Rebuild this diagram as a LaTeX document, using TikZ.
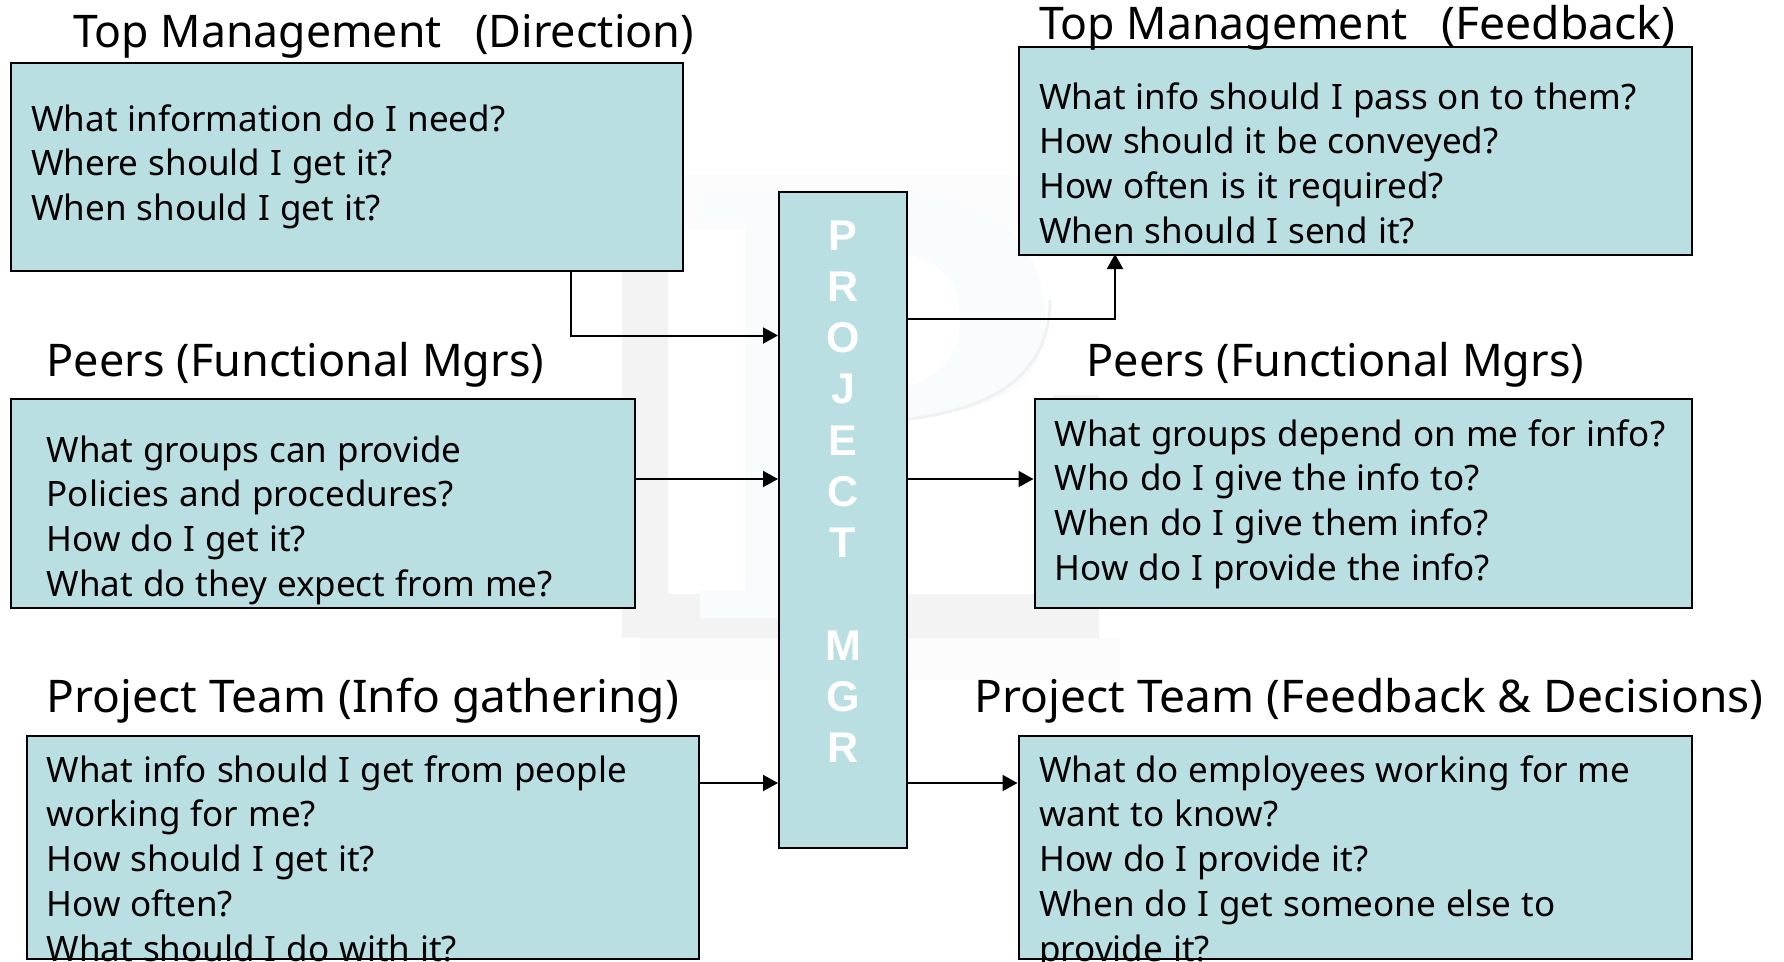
\documentclass[tikz,border=0pt]{standalone}
\usepackage{fontspec}
\setmainfont{Noto Sans}
\newfontfamily\bodyface{Noto Sans}[WordSpace=1.1]
\newfontfamily\pmface{Liberation Sans}[BoldFont={Liberation Sans Bold}]
\usetikzlibrary{arrows.meta}
\definecolor{boxfill}{RGB}{185,223,227}
\definecolor{wmgray}{RGB}{243,243,243}
\definecolor{wmfaint}{RGB}{252,252,252}
\definecolor{wmblue}{RGB}{248,252,253}
\definecolor{wmedge}{RGB}{240,242,242}
\newcommand{\bodyfont}{\bodyface\fontsize{35}{44.7}\selectfont}
\newcommand{\titlefont}{\fontsize{45}{50}\selectfont}
\newcommand{\firstl}{\rule{0pt}{30pt}}
\tikzset{
  x=1pt,y=-1pt,
  qbox/.style={draw=black,line width=2.2pt,fill=boxfill,inner sep=0pt,anchor=north west},
  qtext/.style={anchor=north west,inner sep=0pt,align=left,font=\bodyfont},
  qtitle/.style={anchor=base west,inner sep=0pt,font=\titlefont},
  pmletter/.style={anchor=base,inner sep=0pt,text=white,font=\pmface\fontsize{43}{46}\selectfont\bfseries},
  conn/.style={line width=2pt,-{Triangle[length=15pt,width=16pt]}}
}
\begin{document}
\begin{tikzpicture}
\useasboundingbox (0,0) rectangle (1784,961);
% watermark
\fill[wmfaint] (640,638) rectangle (1120,680);
\fill[wmfaint] (685,175) rectangle (1049,230);
\fill[wmgray] (622,220) -- (668,220) -- (668,594) -- (1053,594) -- (1053,395) -- (1099,395) -- (1099,638) -- (622,638) -- cycle;
\fill[wmblue] (700,190) -- (880,190) .. controls (1005,195) and (1045,250) .. (1045,320) .. controls (1045,385) and (1000,415) .. (880,420) -- (880,590) -- (905,590) -- (905,618) -- (700,618) -- (700,590) -- (745,590) -- (745,220) -- (700,220) -- cycle;
\fill[white] (880,250) .. controls (950,255) and (960,290) .. (960,320) .. controls (960,350) and (945,385) .. (880,390) -- cycle;
\draw[wmedge,line width=3pt] (1050,300) .. controls (1050,370) and (1000,410) .. (900,420);
% boxes
\node[qbox,minimum width=672pt,minimum height=208pt] (tl) at (10,62) {};
\node[qbox,minimum width=624pt,minimum height=209pt] (pl) at (10,398) {};
\node[qbox,minimum width=672pt,minimum height=223pt] (tml) at (26,734.5) {};
\node[qbox,minimum width=128pt,minimum height=656pt] (pm) at (778,190.5) {};
\node[qbox,minimum width=673pt,minimum height=208pt] (tr) at (1017.5,46) {};
\node[qbox,minimum width=657pt,minimum height=209pt] (pr) at (1033.5,398) {};
\node[qbox,minimum width=673pt,minimum height=223pt] (tmr) at (1017.5,734.5) {};
% connector ends
\coordinate (tlout) at (571,270);
\coordinate (tlin) at (778,335.5);
\coordinate (trout) at (906,318.5);
\coordinate (trin) at (1115,254);
\coordinate (ymid) at (0,479);
\coordinate (ylow) at (0,783);
\draw[conn] (tlout) |- (tlin);
\draw[conn] (trout) -| (trin);
\draw[conn] (pl.east |- ymid) -- (pm.west |- ymid);
\draw[conn] (pm.east |- ymid) -- (pr.west |- ymid);
\draw[conn] (tml.east |- ylow) -- (pm.west |- ylow);
\draw[conn] (pm.east |- ylow) -- (tmr.west |- ylow);
% titles
\node[qtitle] (t1) at (73,47) {\scalebox{.99}[1]{Top Management\hspace{34pt}\scalebox{1.01}[1]{(Direction)}}};
\node[qtitle] (t2) at (1039,39) {\scalebox{.99}[1]{Top Management\hspace{34pt}\scalebox{1.04}[1]{(Feedback)}}};
\node[qtitle] (t3) at (46.5,376) {Peers (Functional Mgrs)};
\node[qtitle] (t4) at (1086.5,376) {Peers (Functional Mgrs)};
\node[qtitle] (t5) at (46.5,712) {\scalebox{1.024}[1]{Project Team (Info gathering)}};
\node[qtitle] (t6) at (974.5,712) {\scalebox{1.025}[1]{Project Team (Feedback \& Decisions)}};
% body text
\node[qtext] (b1) at (31,101) {\firstl What information do I need?\\Where should I get it?\\When should I get it?};
\node[qtext] (b2) at (46.5,432) {\firstl What groups can provide\\Policies and procedures?\\How do I get it?\\What do they expect from me?};
\node[qtext] (b3) at (46.5,752) {\firstl What info should I get from people\\working for me?\\How should I get it?\\How often?\\What should I do with it?};
\node[qtext] (b4) at (1039,79) {\firstl What info should I pass on to them?\\How should it be conveyed?\\How often is it required?\\When should I send it?};
\node[qtext] (b5) at (1054.5,416) {\firstl What groups depend on me for info?\\Who do I give the info to?\\When do I give them info?\\How do I provide the info?};
\node[qtext] (b6) at (1039,752) {\firstl What do employees working for me\\want to know?\\How do I provide it?\\When do I get someone else to\\provide it?};
% project manager letters
\node[pmletter] (l1) at (843,250) {P};
\node[pmletter] (l2) at (843,301) {R};
\node[pmletter] (l3) at (843,352) {O};
\node[pmletter] (l4) at (843,403) {J};
\node[pmletter] (l5) at (843,455) {E};
\node[pmletter] (l6) at (843,506) {C};
\node[pmletter] (l7) at (843,557) {T};
\node[pmletter] (l8) at (843,660) {M};
\node[pmletter] (l9) at (843,711) {G};
\node[pmletter] (l10) at (843,762) {R};
\end{tikzpicture}
\end{document}
